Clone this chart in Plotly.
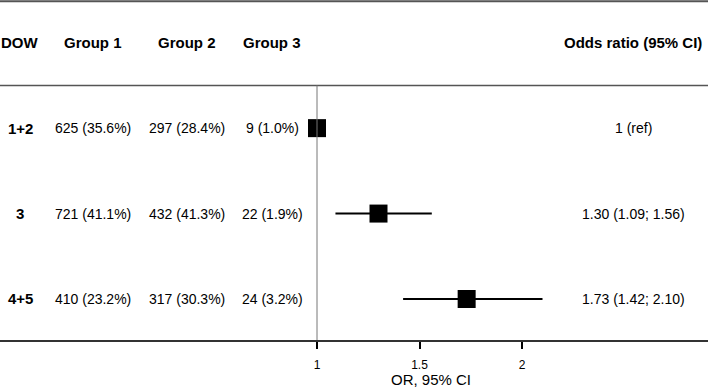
import plotly.graph_objects as go

# ---- data ----
dow = ["1+2", "3", "4+5"]
group1 = ["625 (35.6%)", "721 (41.1%)", "410 (23.2%)"]
group2 = ["297 (28.4%)", "432 (41.3%)", "317 (30.3%)"]
group3 = ["9 (1.0%)", "22 (1.9%)", "24 (3.2%)"]
or_est = [1.00, 1.30, 1.73]
or_lo = [1.00, 1.09, 1.42]
or_hi = [1.00, 1.56, 2.10]
or_text = ["1 (ref)", "1.30 (1.09; 1.56)", "1.73 (1.42; 2.10)"]
headers = ["DOW", "Group 1", "Group 2", "Group 3", "Odds ratio (95% CI)"]
tick_vals = [1, 1.5, 2]
tick_text = ["1", "1.5", "2"]

W, H = 708, 387
FONT = "Arial, Liberation Sans, sans-serif"
rows = [1, 2, 3]

fig = go.Figure()
fig.add_trace(go.Scatter(
    x=or_est, y=rows, mode="markers",
    marker=dict(symbol="square", size=18, color="black"),
    error_x=dict(type="data", symmetric=False,
                 array=[h - e for h, e in zip(or_hi, or_est)],
                 arrayminus=[e - l for e, l in zip(or_est, or_lo)],
                 width=0, thickness=2, color="black"),
    showlegend=False, hoverinfo="skip"))

col_x = [20, 93, 187, 272, 633]
ann = []
for cx, h in zip(col_x, headers):
    ann.append(dict(x=cx / W, xref="paper", y=0, yref="y", text=f"<b>{h}</b>",
                    showarrow=False, font=dict(size=15, color="black", family=FONT),
                    xanchor="center", yanchor="middle"))
cols = [[f"<b>{d}</b>" for d in dow], group1, group2, group3, or_text]
for ci, (cx, vals) in enumerate(zip(col_x, cols)):
    for r, v in zip(rows, vals):
        ann.append(dict(x=cx / W, xref="paper", y=r, yref="y", text=v,
                        showarrow=False,
                        font=dict(size=15 if ci == 0 else 14, color="black", family=FONT),
                        xanchor="center", yanchor="middle"))
ann.append(dict(x=431 / W, xref="paper", y=(340 - 379) / 340, yref="paper",
                text="OR, 95% CI", showarrow=False,
                font=dict(size=15, color="black", family=FONT),
                xanchor="center", yanchor="middle"))

shapes = [
    dict(type="line", xref="paper", x0=0, x1=1, yref="y", y0=-0.485, y1=-0.485,
         line=dict(color="#555555", width=2)),
    dict(type="line", xref="paper", x0=0, x1=1, yref="y", y0=0.5, y1=0.5,
         line=dict(color="#555555", width=1.5)),
    dict(type="line", xref="x", x0=1, x1=1, yref="y", y0=0.5, y1=3.48,
         line=dict(color="#777777", width=1)),
]

x0 = 1 - 317 / 205
x1 = 1 + (W - 317) / 205
fig.update_layout(
    width=W, height=H, margin=dict(l=0, r=0, t=0, b=47),
    paper_bgcolor="white", plot_bgcolor="white",
    xaxis=dict(range=[x0, x1], tickvals=tick_vals, ticktext=tick_text,
               ticks="outside", ticklen=7, tickwidth=1.5, tickcolor="black",
               ticklabelstandoff=6,
               showline=True, linecolor="#333333", linewidth=1.5,
               showgrid=False, zeroline=False,
               tickfont=dict(size=12, color="black", family=FONT)),
    yaxis=dict(range=[3.48, -0.5], visible=False, showgrid=False, zeroline=False),
    annotations=ann, shapes=shapes,
)
fig.write_html("out.html", config={"displayModeBar": False},
               post_script="document.body.style.margin='0';document.body.style.overflow='hidden';")
